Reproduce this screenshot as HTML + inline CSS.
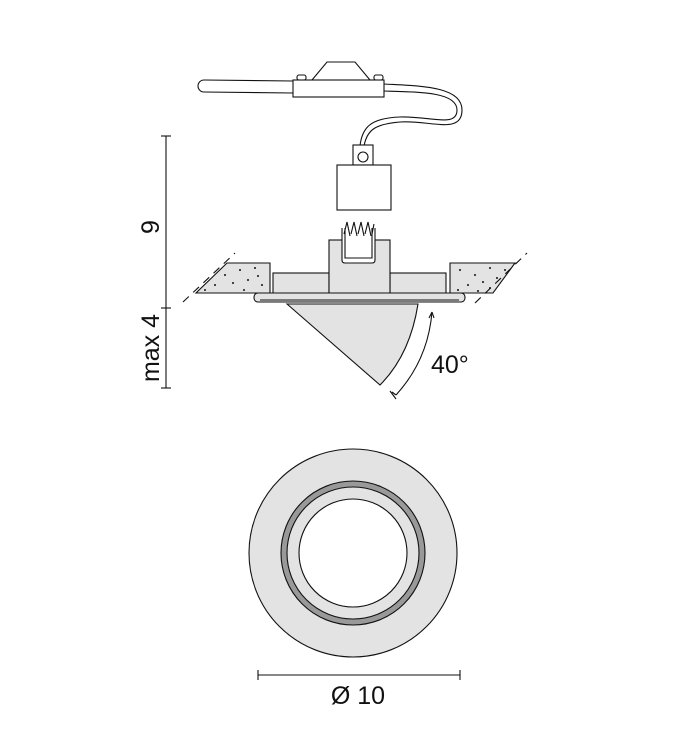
<!DOCTYPE html>
<html><head><style>body{margin:0;background:#fff}svg{display:block}</style></head><body>
<svg width="684" height="745" viewBox="0 0 684 745" xmlns="http://www.w3.org/2000/svg" font-family="Liberation Sans, sans-serif">
<g stroke="#111" stroke-width="1.1" fill="none">
<line x1="166" y1="136" x2="166" y2="388"/>
<line x1="161" y1="136" x2="171" y2="136"/>
<line x1="161" y1="308" x2="171" y2="308"/>
<line x1="161" y1="388" x2="171" y2="388"/>
<path d="M293,81 L204,80 A6,6 0 0 0 204,92 L293,93" fill="#fff"/>
<path d="M312,80 L327,62 L355,62 L370,80" fill="#fff"/>
<rect x="297" y="75" width="9" height="5" rx="2" fill="#fff"/>
<rect x="374" y="75" width="9" height="5" rx="2" fill="#fff"/>
<rect x="293" y="80" width="91" height="17" fill="#fff"/>
<path d="M384,84 C420,86 462,86 462,110 C462,135 430,120 400,122 C375,124 367,130 364,146"/>
<path d="M384,91 C420,92 457,92 457,110 C457,128 430,116 400,117 C370,118 362,128 360,146"/>
<rect x="353" y="145" width="20" height="20" fill="#fff"/>
<circle cx="363" cy="157" r="5" fill="#fff"/>
<rect x="337" y="165" width="54" height="45" fill="#fff"/>
<path d="M227,263 L270,263 L270,293 L196,293 Z" fill="#e3e3e3"/>
<path d="M450,263 L515,263 L493,293 L450,293 Z" fill="#e3e3e3"/>
<path d="M183,302 L235,253" stroke-dasharray="8,6"/>
<path d="M475,303 L527,253" stroke-dasharray="8,6"/>
<rect x="273" y="273" width="56" height="21" fill="#e3e3e3"/>
<rect x="390" y="273" width="56" height="21" fill="#e3e3e3"/>
<rect x="329" y="240" width="61" height="54" fill="#e3e3e3"/>
<path d="M342,228 L342,260 Q342,263 345,263 L372,263 Q375,263 375,260 L375,228" fill="#fff"/>
<path d="M345,228 L345,258 L372,258 L372,228"/>
<path d="M344,234 L347,222 L350,236 M351,234 L354,222 L357,236 M358,234 L361,222 L364,236 M365,234 L368,222 L371,236 M372,234 L374,224" />
<path d="M287,304 L380,385 Q410,355 418,304 Z" fill="#e3e3e3"/>
<rect x="254" y="293" width="211" height="9" rx="4" fill="#e3e3e3"/>
<line x1="260" y1="300" x2="459" y2="300"/>
<path d="M432,312 Q428,360 396,395"/>
<path d="M396,395 l-4,-3 M390,391 l6,8"/>
<path d="M432,312 l-3,6 M432,312 l2,6"/>
<circle cx="353" cy="553" r="104" fill="#e3e3e3"/>
<circle cx="353" cy="553" r="72" fill="#999"/>
<circle cx="353" cy="553" r="66" fill="#e3e3e3"/>
<circle cx="353" cy="553" r="54" fill="#fff"/>
<line x1="258" y1="675" x2="460" y2="675"/>
<line x1="258" y1="670" x2="258" y2="680"/>
<line x1="460" y1="670" x2="460" y2="680"/>
</g>
<g fill="#111">
<circle cx="215" cy="285" r="1"/><circle cx="225" cy="275" r="1"/><circle cx="240" cy="270" r="1"/><circle cx="255" cy="268" r="1"/><circle cx="233" cy="283" r="1"/><circle cx="248" cy="280" r="1"/><circle cx="262" cy="285" r="1"/><circle cx="205" cy="290" r="1"/><circle cx="244" cy="290" r="1"/><circle cx="258" cy="276" r="1"/>
<circle cx="460" cy="270" r="1"/><circle cx="475" cy="275" r="1"/><circle cx="490" cy="268" r="1"/><circle cx="505" cy="270" r="1"/><circle cx="468" cy="285" r="1"/><circle cx="483" cy="282" r="1"/><circle cx="497" cy="278" r="1"/><circle cx="458" cy="290" r="1"/><circle cx="478" cy="291" r="1"/><circle cx="490" cy="288" r="1"/>
</g>
<g font-size="25" fill="#111">
<text x="431" y="373">40°</text>
<text x="358" y="704" text-anchor="middle">Ø 10</text>
<text transform="translate(159,227) rotate(-90)" text-anchor="middle">9</text>
<text transform="translate(159,348) rotate(-90)" text-anchor="middle">max 4</text>
</g>
</svg>
</body></html>
